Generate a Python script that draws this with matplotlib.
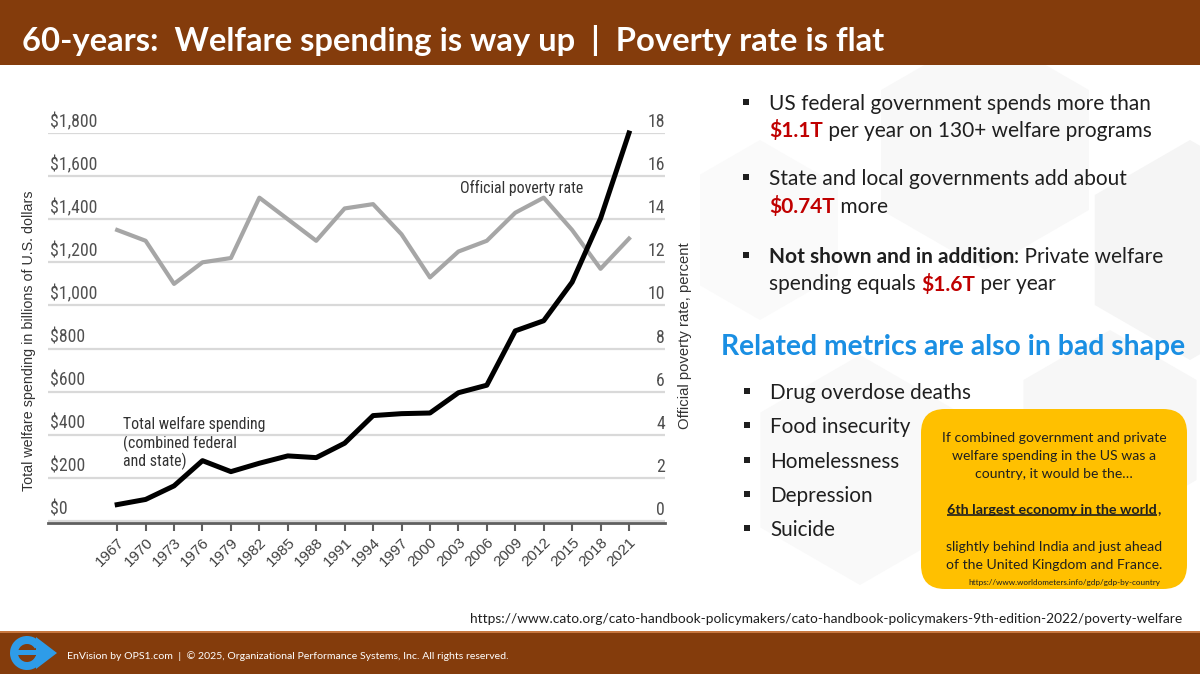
"""Slide: 60 years of welfare spending vs. the official poverty rate."""

import matplotlib

matplotlib.use("Agg")
import matplotlib.pyplot as plt
from matplotlib import font_manager
from matplotlib.patches import FancyBboxPatch, Polygon, Rectangle, RegularPolygon, Wedge
from matplotlib.transforms import offset_copy


YEARS = [1967, 1970, 1973, 1976, 1979, 1982, 1985, 1988, 1991, 1994,
         1997, 2000, 2003, 2006, 2009, 2012, 2015, 2018, 2021]
WELFARE_SPENDING = [76, 100, 163, 280, 229, 268, 302, 294, 361, 489,
                    498, 501, 595, 630, 882, 929, 1108, 1404, 1800]
POVERTY_RATE = [13.5, 13.0, 11.0, 12.0, 12.2, 15.0, 14.0, 13.0, 14.5, 14.7,
                13.3, 11.3, 12.5, 13.0, 14.3, 15.0, 13.5, 11.7, 13.1]

SPENDING_TICKS = [0, 200, 400, 600, 800, 1000, 1200, 1400, 1600, 1800]
SPENDING_TICK_LABELS = ["$0", "$200", "$400", "$600", "$800", "$1,000",
                        "$1,200", "$1,400", "$1,600", "$1,800"]
POVERTY_TICKS = [0, 2, 4, 6, 8, 10, 12, 14, 16, 18]

TITLE = "60-years:  Welfare spending is way up  |  Poverty rate is flat"
LEFT_AXIS_LABEL = "Total welfare spending in billions of U.S. dollars"
RIGHT_AXIS_LABEL = "Official poverty rate, percent"
POVERTY_NOTE = "Official poverty rate"
SPENDING_NOTE = ["Total welfare spending", "(combined federal", "and state)"]

BROWN = "#843C0C"
RED = "#C00000"
BLUE = "#1A8FE3"
GOLD = "#FFC000"
INK = "#1f1f1f"

# each bullet is a list of lines, each line a list of (text, color, weight) runs
BULLETS = [
    [[("US federal government spends more than", INK, "normal")],
     [("$1.1T", RED, "bold"), (" per year on 130+ welfare programs", INK, "normal")]],
    [[("State and local governments add about", INK, "normal")],
     [("$0.74T", RED, "bold"), (" more", INK, "normal")]],
    [[("Not shown and in addition", INK, "bold"), (": Private welfare", INK, "normal")],
     [("spending equals ", INK, "normal"), ("$1.6T", RED, "bold"), (" per year", INK, "normal")]],
]
METRICS_HEADING = "Related metrics are also in bad shape"
METRICS = ["Drug overdose deaths", "Food insecurity", "Homelessness",
           "Depression", "Suicide"]

CALLOUT_TOP = ["If combined government and private",
               "welfare spending in the US was a",
               "country, it would be the\u2026"]
CALLOUT_BOLD = "6th largest economy in the world"
CALLOUT_BOTTOM = ["slightly behind India and just ahead",
                  "of the United Kingdom and France."]
CALLOUT_SOURCE = "https://www.worldometers.info/gdp/gdp-by-country"
SOURCE_URL = ("https://www.cato.org/cato-handbook-policymakers/"
              "cato-handbook-policymakers-9th-edition-2022/poverty-welfare")
FOOTER = ("EnVision by OPS1.com  |  \u00a9 2025, Organizational Performance "
          "Systems, Inc. All rights reserved.")


def pick_font(*names):
    """Return the first installed family out of names."""
    installed = {f.name for f in font_manager.fontManager.ttflist}
    for name in names:
        if name in installed:
            return name
    return "DejaVu Sans"


SLIDE_FONT = pick_font("Lato", "Open Sans", "Noto Sans")
CHART_FONT = pick_font("Liberation Sans Narrow", "Roboto Condensed", "Liberation Sans")
ARIAL_FONT = pick_font("Liberation Sans", "DejaVu Sans")

W, H = 1200, 674
fig = plt.figure(figsize=(W / 100, H / 100), dpi=100)
fig.patch.set_facecolor("white")
renderer = fig.canvas.get_renderer()

# full-figure axes in pixel units (y grows downward)
bg = fig.add_axes([0, 0, 1, 1])
bg.set_xlim(0, W)
bg.set_ylim(H, 0)
bg.axis("off")


def measure(text, size, weight="normal", family=SLIDE_FONT):
    """Advance width of text in pixels, spaces included."""
    a = fig.text(0, 0, "X" + text + "X", fontsize=size, fontweight=weight, family=family)
    b = fig.text(0, 0, "XX", fontsize=size, fontweight=weight, family=family)
    width = a.get_window_extent(renderer).width - b.get_window_extent(renderer).width
    a.remove()
    b.remove()
    return width


def fit_size(text, width, weight="normal", family=SLIDE_FONT):
    return 12 * width / measure(text, 12, weight, family)


def draw_runs(x, y, runs, size, family=SLIDE_FONT):
    for text, color, weight in runs:
        bg.text(x, y, text, fontsize=size, color=color, fontweight=weight,
                family=family, ha="left", va="center_baseline", zorder=3)
        x += measure(text, size, weight, family)
    return x


# very faint hexagon backdrop on the right
for cx, cy, r, shade in [(985, 150, 120, "#f8f8f8"), (1190, 250, 110, "#f5f5f5"),
                         (860, 470, 115, "#f9f9f9"), (1110, 430, 100, "#f7f7f7"),
                         (760, 230, 90, "#fafafa")]:
    bg.add_patch(RegularPolygon((cx, cy), 6, radius=r, orientation=0,
                                facecolor=shade, edgecolor="none", zorder=0))
bg.add_patch(Rectangle((0, 65), 700, 560, facecolor="white", edgecolor="none", zorder=0.5))

# header and footer bands
bg.add_patch(Rectangle((0, 0), W, 65, facecolor=BROWN, edgecolor="none", zorder=1))
bg.add_patch(Rectangle((0, 632), W, H - 632, facecolor=BROWN, edgecolor="none", zorder=1))
bg.add_patch(Rectangle((0, 631), W, 2, facecolor="#c8773f", edgecolor="none", zorder=1))

title_size = fit_size(TITLE, 860, "bold")
bg.text(22, 38, TITLE, fontsize=title_size, fontweight="bold", color="white",
        family=SLIDE_FONT, ha="left", va="center_baseline", zorder=2)

# logo: blue "e" with an arrow tip
LOGO_BLUE = "#2E9CE8"
bg.add_patch(Wedge((27, 653), 17, 20, 330, width=8, facecolor=LOGO_BLUE,
                   edgecolor="none", zorder=2))
bg.add_patch(Rectangle((12, 650), 28, 5, facecolor=LOGO_BLUE, edgecolor="none", zorder=2))
bg.add_patch(Polygon([(36, 637), (57, 653), (36, 669)], closed=True,
                     facecolor=LOGO_BLUE, edgecolor="none", zorder=2))

footer_size = fit_size(FOOTER, 436)
bg.text(67, 655, FOOTER, fontsize=footer_size, color="white", family=SLIDE_FONT,
        ha="left", va="center_baseline", zorder=2)

source_size = fit_size(SOURCE_URL, 709)
bg.text(1182, 618, SOURCE_URL, fontsize=source_size, color=INK, family=SLIDE_FONT,
        ha="right", va="center_baseline", zorder=2)

# right-hand bullets
bullet_size = fit_size(BULLETS[0][0][0][0], 381)
line_y = [[102, 129], [177, 205], [255, 282]]
for bullet, ys in zip(BULLETS, line_y):
    bg.add_patch(Rectangle((743, ys[0] - 3), 6, 6, facecolor=INK, edgecolor="none", zorder=2))
    for runs, y in zip(bullet, ys):
        draw_runs(769, y, runs, bullet_size)

heading_size = fit_size(METRICS_HEADING, 461, "bold")
bg.text(721, 345, METRICS_HEADING, fontsize=heading_size, fontweight="bold",
        color=BLUE, family=SLIDE_FONT, ha="left", va="center_baseline", zorder=2)

metric_size = fit_size(METRICS[0], 200)
for label, y in zip(METRICS, [391, 425, 460, 494, 528]):
    bg.add_patch(Rectangle((744, y - 3), 6, 6, facecolor=INK, edgecolor="none", zorder=2))
    bg.text(770, y, label, fontsize=metric_size, color=INK, family=SLIDE_FONT,
            ha="left", va="center_baseline", zorder=2)

# callout box
bg.add_patch(FancyBboxPatch((921, 409), 266, 180,
                            boxstyle="round,pad=0,rounding_size=24",
                            facecolor=GOLD, edgecolor="none", zorder=2))
callout_size = fit_size(CALLOUT_TOP[0], 223)
for text, y in zip(CALLOUT_TOP, [437, 455, 473]):
    bg.text(1054, y, text, fontsize=callout_size, color=INK, family=SLIDE_FONT,
            ha="center", va="center_baseline", zorder=3)
bold_size = fit_size(CALLOUT_BOLD + ",", 211, "bold")
bold_width = measure(CALLOUT_BOLD, bold_size, "bold")
comma_width = measure(",", bold_size, "bold")
bold_x = 1054 - (bold_width + comma_width) / 2
end_x = draw_runs(bold_x, 509, [(CALLOUT_BOLD, INK, "bold"), (",", INK, "bold")], bold_size)
bg.plot([bold_x, end_x - comma_width], [515, 515], color=INK, lw=1.2, zorder=3,
        solid_capstyle="butt")
for text, y in zip(CALLOUT_BOTTOM, [546, 564]):
    bg.text(1054, y, text, fontsize=callout_size, color=INK, family=SLIDE_FONT,
            ha="center", va="center_baseline", zorder=3)
bg.text(1160, 582, CALLOUT_SOURCE, fontsize=fit_size(CALLOUT_SOURCE, 190),
        color=INK, family=SLIDE_FONT, ha="right", va="center_baseline", zorder=3)

# chart: spending on the left scale, poverty rate on the right scale
left, right, top, bottom = 48, 665, 133, 523
ax = fig.add_axes([left / W, 1 - bottom / H, (right - left) / W, (bottom - top) / H])
ax_r = ax.twinx()
ax.set_zorder(ax_r.get_zorder() + 1)
ax.patch.set_visible(False)
ax_r.patch.set_visible(False)

px_per_unit = (521 - top) / 18
ax.set_xlim(1959.7, 2024.8)
ax.set_ylim(-100 * (bottom - 521) / px_per_unit, 1800)
ax_r.set_ylim(-(bottom - 521) / px_per_unit, 18)

ax_r.set_yticks(POVERTY_TICKS)
ax_r.set_yticklabels([])
ax_r.tick_params(axis="y", length=0)
ax_r.yaxis.grid(True, color="#d9d9d9", lw=1.6)
ax.set_yticks(SPENDING_TICKS)
ax.set_yticklabels([])
ax.tick_params(axis="y", length=0)

for spine in list(ax.spines.values()) + list(ax_r.spines.values()):
    spine.set_visible(False)
ax.spines["bottom"].set_visible(True)
ax.spines["bottom"].set_color("#5f5f5f")
ax.spines["bottom"].set_linewidth(2)

ax.set_xticks(YEARS)
ax.set_xticklabels([str(y) for y in YEARS], rotation=45, ha="right",
                   rotation_mode="anchor", fontsize=11, family=ARIAL_FONT, color="#404040")
ax.tick_params(axis="x", length=6, width=1.5, color="#5f5f5f", pad=3)

tick_size = fit_size("$1,800", 47, family=CHART_FONT)
left_tr = offset_copy(ax.get_yaxis_transform(), fig=fig, x=2, y=2, units="dots")
for value, label in zip(SPENDING_TICKS, SPENDING_TICK_LABELS):
    ax.text(0, value, label, transform=left_tr, fontsize=tick_size, family=CHART_FONT,
            color="#505050", ha="left", va="bottom")
right_tr = offset_copy(ax_r.get_yaxis_transform(), fig=fig, x=0, y=2, units="dots")
for value in POVERTY_TICKS:
    ax_r.text(1, value, str(value), transform=right_tr, fontsize=tick_size, family=CHART_FONT,
              color="#505050", ha="right", va="bottom")

ax_r.plot(YEARS, POVERTY_RATE, color="#a6a6a6", lw=3)
ax.plot(YEARS, WELFARE_SPENDING, color="black", lw=3.6, clip_on=False)

note_size = fit_size(POVERTY_NOTE, 124, family=CHART_FONT)
bg.text(460, 186, POVERTY_NOTE, fontsize=note_size, family=CHART_FONT, color="#333333",
        ha="left", va="center_baseline", zorder=2)
for text, y in zip(SPENDING_NOTE, [422, 441, 459]):
    bg.text(123, y, text, fontsize=note_size, family=CHART_FONT, color="#333333",
            ha="left", va="center_baseline", zorder=2)

bg.text(29, 341, LEFT_AXIS_LABEL, fontsize=fit_size(LEFT_AXIS_LABEL, 298, family=ARIAL_FONT),
        family=ARIAL_FONT, color="#333333", rotation=90, ha="center", va="center", zorder=2)
bg.text(685, 336, RIGHT_AXIS_LABEL, fontsize=fit_size(RIGHT_AXIS_LABEL, 187, family=ARIAL_FONT),
        family=ARIAL_FONT, color="#333333", rotation=90, ha="center", va="center", zorder=2)

fig.savefig("out.png", dpi=100)
